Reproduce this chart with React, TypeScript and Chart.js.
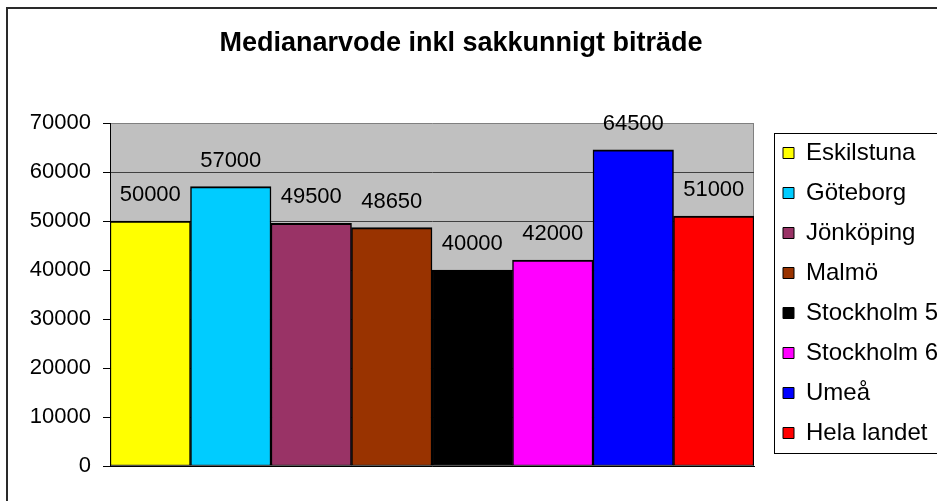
import React, { useEffect, useRef } from "react";
import { Chart, registerables } from "chart.js";

Chart.register(...registerables);

const titleText = "Medianarvode inkl sakkunnigt biträde";
const categories = [""];
const seriesNames = [
  "Eskilstuna",
  "Göteborg",
  "Jönköping",
  "Malmö",
  "Stockholm 5",
  "Stockholm 6",
  "Umeå",
  "Hela landet",
];
const seriesValues = [50000, 57000, 49500, 48650, 40000, 42000, 64500, 51000];
const seriesColors = [
  "#FFFF00",
  "#00CCFF",
  "#993366",
  "#993300",
  "#000000",
  "#FF00FF",
  "#0000FF",
  "#FF0000",
];
const yMin = 0;
const yMax = 70000;
const yStep = 10000;

const FONT = "'Liberation Sans', Arial, sans-serif";
const CW = 960;
const CH = 520;

const decorPlugin = {
  id: "decor",
  afterLayout(chart: any) {
    const lg = chart.legend;
    if (lg) {
      lg.left = 767;
      lg.top = 125;
      lg.right = CW;
      lg.bottom = CH;
      lg.width = lg.right - lg.left;
      lg.height = lg.bottom - lg.top;
    }
    const tb = chart.titleBlock;
    if (tb) {
      tb.left = 0;
      tb.right = 922;
      tb.width = 922;
    }
  },
  beforeDraw(chart: any) {
    const { ctx, chartArea: a } = chart;
    ctx.save();
    ctx.fillStyle = "#FFFFFF";
    ctx.fillRect(0, 0, chart.width, chart.height);
    ctx.fillStyle = "#C0C0C0";
    ctx.fillRect(a.left, a.top, a.right - a.left, a.bottom - a.top);
    ctx.strokeStyle = "#808080";
    ctx.lineWidth = 1;
    ctx.beginPath();
    ctx.moveTo(Math.round(a.right) - 0.5, a.top);
    ctx.lineTo(Math.round(a.right) - 0.5, a.bottom);
    ctx.stroke();
    ctx.restore();
  },
  afterDatasetsDraw(chart: any) {
    const { ctx } = chart;
    ctx.save();
    ctx.font = `22px ${FONT}`;
    ctx.fillStyle = "#000";
    ctx.textAlign = "center";
    ctx.textBaseline = "alphabetic";
    chart.data.datasets.forEach((ds: any, i: number) => {
      const meta = chart.getDatasetMeta(i);
      const el = meta.data[0];
      if (!el) return;
      ctx.fillText(String(ds.data[0]), el.x, el.y - 20);
    });
    ctx.restore();
  },
  afterDraw(chart: any) {
    const { ctx } = chart;
    ctx.save();
    // legend frame
    ctx.strokeStyle = "#000";
    ctx.lineWidth = 1;
    ctx.strokeRect(774.5, 133.5, 200, 320);
    // outer chart frame
    ctx.strokeStyle = "#2a2a2a";
    ctx.lineWidth = 2;
    ctx.strokeRect(7, 8, 948, 506);
    ctx.restore();
  },
};

export default function App() {
  const ref = useRef<HTMLCanvasElement | null>(null);

  useEffect(() => {
    if (!ref.current) return;
    const chart = new Chart(ref.current, {
      type: "bar",
      data: {
        labels: categories,
        datasets: seriesNames.map((name, i) => ({
          label: name,
          data: [seriesValues[i]],
          backgroundColor: seriesColors[i],
          borderColor: "#000000",
          borderWidth: { top: 2, left: 1.5, right: 1.5, bottom: 1 },
          borderSkipped: false,
          categoryPercentage: 1,
          barPercentage: 1,
        })),
      },
      options: {
        responsive: false,
        animation: false,
        devicePixelRatio: 1,
        layout: { padding: { left: 0, top: 0, right: 56, bottom: 0 } },
        scales: {
          x: {
            display: true,
            ticks: { display: false },
            grid: { display: false, drawTicks: false },
            border: { display: true, color: "#000", width: 1 },
            afterFit: (s: any) => {
              s.height = CH - 466;
            },
          },
          y: {
            min: yMin,
            max: yMax,
            ticks: {
              stepSize: yStep,
              color: "#000",
              padding: 12,
              font: { family: FONT, size: 22 },
              callback: (v: any) => String(v),
            },
            grid: {
              color: (c: any) =>
                c.tick && c.tick.value === yMax ? "#808080" : "#404040",
              tickColor: "#000",
              tickLength: 7,
              lineWidth: 1,
            },
            border: { display: true, color: "#000", width: 1 },
            afterFit: (s: any) => {
              s.width = 110;
            },
          },
        },
        plugins: {
          title: {
            display: true,
            text: titleText,
            color: "#000",
            font: { family: FONT, size: 27, weight: "bold" },
            padding: { top: 27.3, bottom: 63.3 },
          },
          legend: {
            display: true,
            position: "right",
            align: "start",
            maxWidth: 150,
            labels: {
              color: "#000",
              font: { family: FONT, size: 24 },
              boxWidth: 11,
              boxHeight: 11,
              padding: 16,
              generateLabels: (ch: any) => {
                const base = Chart.defaults.plugins.legend.labels.generateLabels(ch);
                return base.map((it: any) => ({ ...it, lineWidth: 1, strokeStyle: "#000" }));
              },
            },
          },
          tooltip: { enabled: false },
        },
      },
      plugins: [decorPlugin],
    });
    return () => chart.destroy();
  }, []);

  return (
    <div
      style={{
        position: "fixed",
        left: 0,
        top: 0,
        width: 937,
        height: 501,
        overflow: "hidden",
        background: "#fff",
      }}
    >
      <canvas ref={ref} width={CW} height={CH} style={{ display: "block", width: CW, height: CH }} />
    </div>
  );
}
